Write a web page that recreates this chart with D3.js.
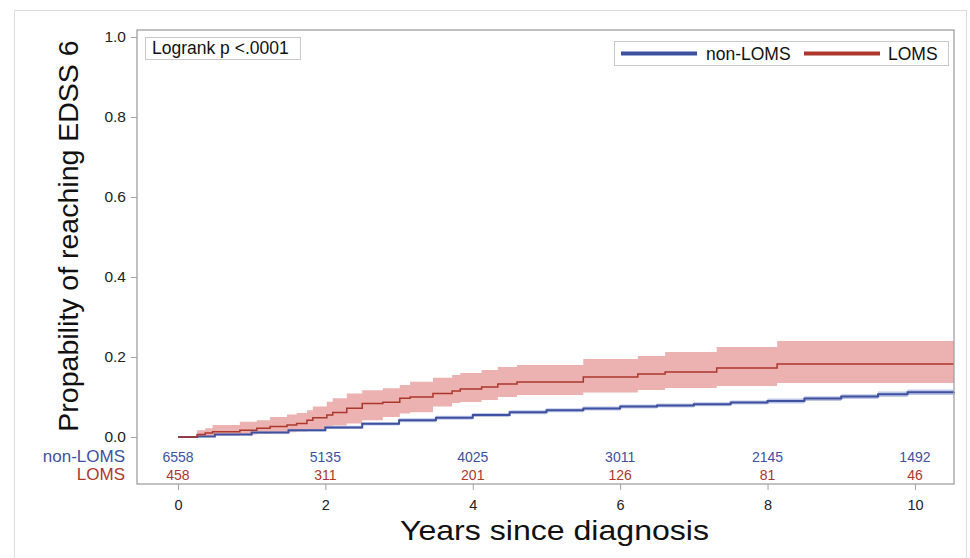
<!DOCTYPE html>
<html>
<head>
<meta charset="utf-8">
<script src="https://cdn.jsdelivr.net/npm/d3@7"></script>
<style>
body{margin:0;background:#fff;}
svg{display:block;font-family:"Liberation Sans",Arial,sans-serif;}
</style>
</head>
<body>
<svg id="c" width="970" height="558"></svg>
<script>
// ---- data ----
const xTicks = [0, 2, 4, 6, 8, 10];
const yTicks = [0.0, 0.2, 0.4, 0.6, 0.8, 1.0];
const groups = ["non-LOMS", "LOMS"];
const atRiskNonLOMS = [6558, 5135, 4025, 3011, 2145, 1492];
const atRiskLOMS = [458, 311, 201, 126, 81, 46];

// LOMS step function: time (years), estimate, lower, upper
const lomsTime = [0, 0.26, 0.37, 0.47, 0.84, 1.07, 1.25, 1.48, 1.61, 1.75, 1.83, 2.02, 2.1, 2.29, 2.5, 2.78, 3.01, 3.15, 3.46, 3.72, 3.83, 4.12, 4.34, 4.6, 5.5, 6.24, 6.61, 7.31, 8.13, 10.53];
const lomsEst  = [0, 0.006, 0.010, 0.013, 0.017, 0.022, 0.026, 0.030, 0.034, 0.042, 0.048, 0.055, 0.061, 0.072, 0.084, 0.087, 0.097, 0.100, 0.109, 0.115, 0.120, 0.125, 0.1325, 0.1375, 0.150, 0.1575, 0.1625, 0.1725, 0.1825, 0.1825];
const lomsLo   = [0, 0.000, 0.002, 0.004, 0.006, 0.008, 0.010, 0.012, 0.014, 0.017, 0.020, 0.026, 0.029, 0.034, 0.042, 0.050, 0.059, 0.062, 0.076, 0.085, 0.0875, 0.0925, 0.100, 0.105, 0.111, 0.1175, 0.1225, 0.1275, 0.135, 0.135];
const lomsHi   = [0, 0.017, 0.022, 0.030, 0.038, 0.042, 0.050, 0.056, 0.060, 0.067, 0.076, 0.088, 0.097, 0.109, 0.117, 0.122, 0.130, 0.138, 0.148, 0.155, 0.160, 0.1675, 0.175, 0.180, 0.195, 0.2025, 0.2125, 0.225, 0.240, 0.240];

// non-LOMS step function: time (years), estimate, lower, upper
const nonTime = [0, 0.26, 0.5, 1, 1.5, 2, 2.5, 3, 3.5, 4, 4.5, 5, 5.5, 6, 6.5, 7, 7.5, 8, 8.5, 9, 9.5, 9.9, 10.53];
const nonEst  = [0, 0.001, 0.006, 0.011, 0.017, 0.024, 0.033, 0.042, 0.048, 0.055, 0.062, 0.067, 0.071, 0.076, 0.079, 0.082, 0.086, 0.090, 0.096, 0.101, 0.107, 0.112, 0.113];
const nonLo   = [0, 0.000, 0.004, 0.008, 0.014, 0.020, 0.029, 0.037, 0.043, 0.050, 0.057, 0.062, 0.066, 0.071, 0.074, 0.077, 0.081, 0.084, 0.090, 0.095, 0.100, 0.105, 0.106];
const nonHi   = [0, 0.002, 0.008, 0.014, 0.020, 0.028, 0.037, 0.047, 0.053, 0.060, 0.067, 0.072, 0.076, 0.081, 0.084, 0.087, 0.091, 0.096, 0.102, 0.107, 0.114, 0.119, 0.120];

const colors = {"non-LOMS": "#3e50a0", "LOMS": "#ac372c"};
const bandColors = {"non-LOMS": "#b7c1e3", "LOMS": "#eaa9a9"};

// ---- layout ----
const svg = d3.select("#c");
const frame = {l: 137, r: 954, t: 30, b: 484};
const x = d3.scaleLinear().domain([-0.556, 10.53]).range([frame.l, frame.r]);
const y = d3.scaleLinear().domain([0, 1]).range([437, 37]);

// outer border
svg.append("rect").attr("x", 14.5).attr("y", 10.5).attr("width", 952).attr("height", 560)
  .attr("fill", "none").attr("stroke", "#dcdcdc");

const toRows = (t, e, lo, hi) => t.map((d, i) => ({t: d, e: e[i], lo: lo[i], hi: hi[i]}));
const series = [
  {name: "non-LOMS", rows: toRows(nonTime, nonEst, nonLo, nonHi)},
  {name: "LOMS", rows: toRows(lomsTime, lomsEst, lomsLo, lomsHi)}
];

const area = d3.area().curve(d3.curveStepAfter).x(d => x(d.t)).y0(d => y(d.lo)).y1(d => y(d.hi));
const line = d3.line().curve(d3.curveStepAfter).x(d => x(d.t)).y(d => y(d.e));

const g = svg.append("g");
series.slice().reverse().forEach(s => {
  g.append("path").datum(s.rows).attr("d", area).attr("fill", bandColors[s.name]).attr("opacity", 0.9);
});
series.forEach(s => {
  g.append("path").datum(s.rows).attr("d", line).attr("fill", "none")
    .attr("stroke", colors[s.name]).attr("stroke-width", s.name === "LOMS" ? 1.5 : 2);
});

// frame
svg.append("rect").attr("x", frame.l).attr("y", frame.t).attr("width", frame.r - frame.l).attr("height", frame.b - frame.t)
  .attr("fill", "none").attr("stroke", "#a0a0a0").attr("stroke-width", 1.3);

// y axis
const yAxis = d3.axisLeft(y).tickValues(yTicks).tickFormat(d3.format(".1f")).tickSize(6).tickPadding(5);
const ya = svg.append("g").attr("transform", `translate(${frame.l},0)`).call(yAxis);
ya.select(".domain").remove();
ya.selectAll(".tick line").attr("stroke", "#a0a0a0");
ya.selectAll(".tick text").attr("font-size", 15.5).attr("fill", "#222").attr("font-family", "Liberation Sans, Arial, sans-serif");

// x axis
const xAxis = d3.axisBottom(x).tickValues(xTicks).tickFormat(d3.format("d")).tickSize(6).tickPadding(10);
const xa = svg.append("g").attr("transform", `translate(0,${frame.b})`).call(xAxis);
xa.select(".domain").remove();
xa.selectAll(".tick line").attr("stroke", "#a0a0a0");
xa.selectAll(".tick text").attr("font-size", 14.5).attr("fill", "#222").attr("font-family", "Liberation Sans, Arial, sans-serif");

// axis titles
svg.append("text").attr("x", 554.5).attr("y", 540).attr("text-anchor", "middle")
  .attr("font-size", 28).attr("textLength", 309).attr("lengthAdjust", "spacingAndGlyphs")
  .attr("fill", "#111").text("Years since diagnosis");
svg.append("text").attr("transform", "translate(78,236) rotate(-90)").attr("text-anchor", "middle")
  .attr("font-size", 28.5).attr("fill", "#111").text("Propability of reaching EDSS 6");

// at-risk table
const riskRows = [{name: "non-LOMS", vals: atRiskNonLOMS, yy: 462}, {name: "LOMS", vals: atRiskLOMS, yy: 480}];
riskRows.forEach(r => {
  svg.append("text").attr("x", 125).attr("y", r.yy).attr("text-anchor", "end").attr("font-size", 17)
    .attr("fill", colors[r.name]).text(r.name);
  svg.selectAll(null).data(r.vals).enter().append("text")
    .attr("x", (d, i) => x(xTicks[i])).attr("y", r.yy).attr("text-anchor", "middle")
    .attr("font-size", 14).attr("fill", colors[r.name]).text(d => d);
});

// logrank box
svg.append("rect").attr("x", 145.5).attr("y", 37.5).attr("width", 155).attr("height", 22)
  .attr("fill", "#fff").attr("stroke", "#c8c8c8");
svg.append("text").attr("x", 152).attr("y", 54).attr("font-size", 17.5).attr("fill", "#111").text("Logrank p <.0001");

// legend
const lg = svg.append("g");
lg.append("rect").attr("x", 614.5).attr("y", 41.5).attr("width", 334).attr("height", 24)
  .attr("fill", "#fff").attr("stroke", "#c8c8c8");
const legX = [{name: "non-LOMS", x0: 621, tx: 706}, {name: "LOMS", x0: 804, tx: 888}];
legX.forEach(l => {
  lg.append("line").attr("x1", l.x0).attr("x2", l.x0 + 76).attr("y1", 53.5).attr("y2", 53.5)
    .attr("stroke", colors[l.name]).attr("stroke-width", 4);
  lg.append("text").attr("x", l.tx).attr("y", 60).attr("font-size", 17.5).attr("fill", "#111").text(l.name);
});
</script>
</body>
</html>
